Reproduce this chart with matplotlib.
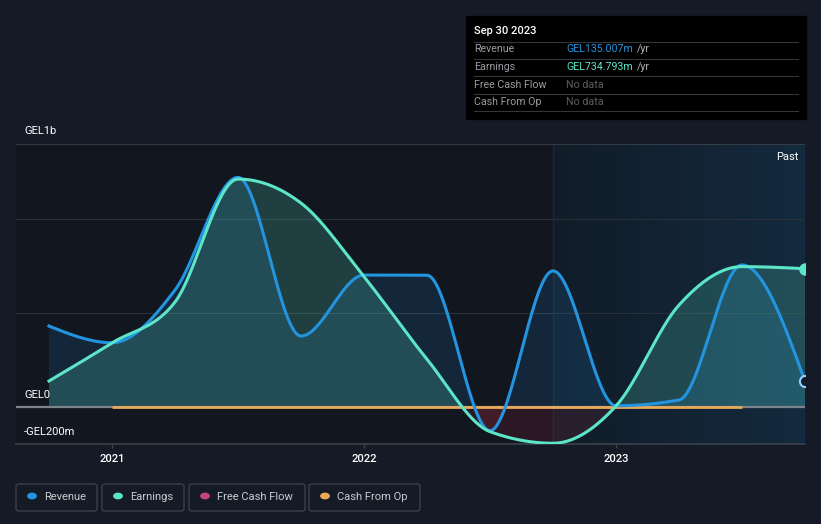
import numpy as np
import matplotlib.pyplot as plt
from matplotlib.patches import FancyBboxPatch, Rectangle, Circle
from matplotlib.lines import Line2D

plt.rcParams['font.family'] = ['Roboto', 'DejaVu Sans']

# quarter ends as decimal years, values in GEL millions
quarters = [2020.75, 2021.0, 2021.25, 2021.5, 2021.75, 2022.0, 2022.25,
            2022.5, 2022.75, 2023.0, 2023.25, 2023.5, 2023.75]
revenue = [429, 340, 621, 1222, 376, 701, 700, -129, 723, 4, 35, 755, 135]
earnings = [136, 339, 557, 1213, 1085, 692, 252, -134, -196, 3, 541, 746, 735]
cfo_quarters = [2021.0, 2021.25, 2021.5, 2021.75, 2022.0, 2022.25, 2022.5,
                2022.75, 2023.0, 2023.25, 2023.5]
cash_from_op = [-5, -5, -5, -5, -5, -5, -5, -5, -5, -5, -5]
year_ticks = [2021, 2022, 2023]

BG = '#151b26'
REV = '#2394df'
EARN = '#5ce5c8'
FCF = '#c0457e'
CFO = '#e8a95a'
W, H = 821, 524


def monotone(xs, ys, n=60):
    # same idea as d3.curveMonotoneX
    xs = np.asarray(xs, float)
    ys = np.asarray(ys, float)
    h = np.diff(xs)
    s = np.diff(ys) / h
    m = np.zeros(len(xs))
    for i in range(1, len(xs) - 1):
        p = (s[i-1] * h[i] + s[i] * h[i-1]) / (h[i-1] + h[i])
        m[i] = (np.sign(s[i-1]) + np.sign(s[i])) * min(abs(s[i-1]), abs(s[i]), 0.5 * abs(p))
    m[0] = (3 * s[0] - m[1]) / 2
    m[-1] = (3 * s[-1] - m[-2]) / 2
    out_x, out_y = [], []
    for i in range(len(xs) - 1):
        t = np.linspace(0, 1, n, endpoint=(i == len(xs) - 2))
        h00 = 2*t**3 - 3*t**2 + 1
        h10 = t**3 - 2*t**2 + t
        h01 = -2*t**3 + 3*t**2
        h11 = t**3 - t**2
        out_x.append(xs[i] + t * h[i])
        out_y.append(h00*ys[i] + h10*h[i]*m[i] + h01*ys[i+1] + h11*h[i]*m[i+1])
    return np.concatenate(out_x), np.concatenate(out_y)


def fx(x):
    return x / W


def fy(y):
    return 1 - y / H


fig = plt.figure(figsize=(8.21, 5.24), dpi=100, facecolor=BG)
ax = fig.add_axes([fx(16), fy(444), fx(805) - fx(16), fy(144) - fy(444)])
ax.set_facecolor('#12161f')

x0 = 2021 - 96 / 252
ax.set_xlim(x0, 2023.75)
ax.set_ylim(-200, 1400)

# past shading
grad = np.linspace(0, 1, 200)
c1 = np.array([0x11, 0x1c, 0x28]) / 255
c2 = np.array([0x14, 0x2a, 0x3e]) / 255
img = (c1[None, :] * (1 - grad[:, None]) + c2[None, :] * grad[:, None])[None, :, :]
ax.imshow(img, extent=[2022.75, 2023.75, -200, 1400], aspect='auto', zorder=0)
ax.axvline(2022.75, color='#1e2834', lw=1, zorder=1)

for g in [500, 1000]:
    ax.axhline(g, color='#2a3039', lw=0.8, zorder=1)
ax.axhline(1400, color='#3b414a', lw=1.2, zorder=1)

rx, ry = monotone(quarters, revenue)
ex, ey = monotone(quarters, earnings)

ax.fill_between(rx, ry, 0, where=ry >= 0, interpolate=True, color=REV, alpha=0.14, lw=0, zorder=2)
ax.fill_between(ex, ey, 0, where=ey >= 0, interpolate=True, color=EARN, alpha=0.2, lw=0, zorder=2)
ax.fill_between(rx, ry, 0, where=ry < 0, interpolate=True, color='#d8324a', alpha=0.14, lw=0, zorder=2)
ax.fill_between(ex, ey, 0, where=ey < 0, interpolate=True, color='#d8324a', alpha=0.12, lw=0, zorder=2)

ax.axhline(0, color='#7d838b', lw=1.6, zorder=3)
ax.plot(cfo_quarters, cash_from_op, color=CFO, lw=2, zorder=4, solid_capstyle='butt')

ax.plot(rx, ry, color=REV, lw=2.2, zorder=5)
ax.plot(ex, ey, color=EARN, lw=2.2, zorder=6)
ax.plot([quarters[-1]], [revenue[-1]], 'o', ms=8, mfc=BG, mec='#8fd0ff', mew=1.5, zorder=7)
ax.plot([quarters[-1]], [earnings[-1]], 'o', ms=8, mfc=EARN, mec=EARN, zorder=7)

for sp in ['top', 'right', 'left']:
    ax.spines[sp].set_visible(False)
ax.spines['bottom'].set_color('#3b414a')
ax.spines['bottom'].set_linewidth(1.2)
ax.set_yticks([])
ax.set_xticks(year_ticks)
ax.set_xticklabels([str(y) for y in year_ticks])
ax.tick_params(axis='x', colors='#3b414a', length=3, width=1, pad=4,
               labelcolor='#ffffff', labelsize=8)
for lab in ax.get_xticklabels():
    lab.set_fontweight('medium')

ax.text(2023.725, 1330, 'Past', color='#ffffff', fontsize=8, ha='right', va='center')

# y labels
fig.text(fx(24), fy(131), 'GEL1b', color='#ffffff', fontsize=8, va='center')
fig.text(fx(24), fy(395), 'GEL0', color='#ffffff', fontsize=8, va='center')
fig.text(fx(24), fy(432), '-GEL200m', color='#ffffff', fontsize=8, va='center')

# tooltip
fig.add_artist(Rectangle((fx(466), fy(119)), fx(806) - fx(466), fy(16) - fy(119),
                         transform=fig.transFigure, color='#000000', zorder=10))
fig.text(fx(474), fy(31), 'Sep 30 2023', color='#ffffff', fontsize=8,
         fontweight='medium', va='center', zorder=11)
for ly in [41.5, 59, 76, 93.5, 111]:
    fig.add_artist(Line2D([fx(474), fx(798)], [fy(ly), fy(ly)], transform=fig.transFigure,
                          color='#333638', lw=0.8, zorder=11))
rows = [('Revenue', 'GEL135.007m', REV, True),
        ('Earnings', 'GEL734.793m', EARN, True),
        ('Free Cash Flow', 'No data', '#5a5d62', False),
        ('Cash From Op', 'No data', '#5a5d62', False)]
for (name, val, col, yr), ry_ in zip(rows, [49.5, 67, 84.5, 102]):
    fig.text(fx(474), fy(ry_), name, color='#9a9ca0', fontsize=7.7, va='center', zorder=11)
    fig.text(fx(566), fy(ry_), val, color=col, fontsize=7.7, va='center', zorder=11)
    if yr:
        fig.text(fx(637), fy(ry_), '/yr', color='#b0b2b6', fontsize=7.7, va='center', zorder=11)

# legend
legend = [('Revenue', REV, 16, 97), ('Earnings', EARN, 102, 184),
          ('Free Cash Flow', FCF, 189, 305), ('Cash From Op', CFO, 309, 420)]
for name, col, lx, rxp in legend:
    fig.add_artist(FancyBboxPatch((fx(lx), fy(511)), fx(rxp) - fx(lx), fy(484) - fy(511),
                                  boxstyle='round,pad=0,rounding_size=0.004',
                                  transform=fig.transFigure, fc='none', ec='#3a3f48', lw=1))
    fig.add_artist(Circle((fx(lx + 16), fy(496)), 4.2 / W, transform=fig.transFigure,
                          color=col))
    fig.text(fx(lx + 28), fy(496.5), name, color='#c9cbcf', fontsize=8, va='center')

fig.savefig('out.png', dpi=100, facecolor=BG)
